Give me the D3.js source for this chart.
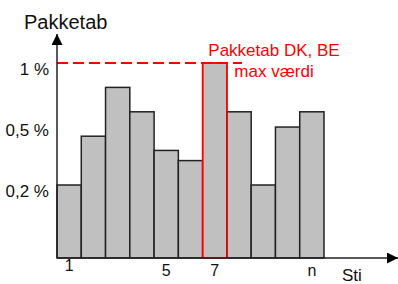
<!DOCTYPE html>
<html>
<head>
<meta charset="utf-8">
<script src="https://cdn.jsdelivr.net/npm/d3@7"></script>
<style>
  body { margin: 0; background: #fff; }
  text { font-family: "Liberation Sans", Arial, sans-serif; }
</style>
</head>
<body>
<svg width="398" height="284"></svg>
<script>
// Packet loss per path (in %), path 7 is the max value
var paths = ["1", "2", "3", "4", "5", "6", "7", "8", "9", "10", "n"];
var loss = [0.2, 0.44, 0.8, 0.6, 0.37, 0.32, 1.0, 0.6, 0.2, 0.485, 0.6];
var highlight = "7";
var maxLoss = 1.0;

// y tick values and their labels
var yTicks = [0.2, 0.5, 1];
var yTickLabels = ["0,2 %", "0,5 %", "1 %"];
// only some paths get a label under the axis
var xLabels = ["1", "5", "7", "n"];

var svgWidth = 398, svgHeight = 284;
var margin = {top: 34, right: 0, bottom: 26, left: 57};

var svg = d3.select("svg");

var xScale = d3.scaleBand()
  .domain(paths)
  .range([margin.left, 324])
  .padding(0);

// hand drawn, so the y axis is not linear
var yScale = d3.scaleLinear()
  .domain([0, 0.2, 0.5, 1])
  .range([258, 185, 124, 63]);

// arrow heads
var defs = svg.append("defs");
defs.append("marker")
  .attr("id", "arrow")
  .attr("viewBox", "0 0 10 10")
  .attr("refX", 10).attr("refY", 5)
  .attr("markerWidth", 11).attr("markerHeight", 11)
  .attr("markerUnits", "userSpaceOnUse")
  .attr("orient", "auto")
  .append("path")
  .attr("d", "M0,0 L10,5 L0,10 Z")
  .attr("fill", "#000");

// bars
svg.selectAll(".bar")
  .data(loss)
  .enter()
  .append("rect")
  .attr("class", "bar")
  .attr("x", function(d, i) { return xScale(paths[i]); })
  .attr("y", function(d) { return yScale(d); })
  .attr("width", xScale.bandwidth())
  .attr("height", function(d) { return yScale(0) - yScale(d); })
  .attr("fill", "#c0c0c0")
  .attr("stroke", function(d, i) { return paths[i] == highlight ? "#ff0000" : "#222"; })
  .attr("stroke-width", 1.5);

// draw the red bar again on top so its outline is not covered
svg.append("rect")
  .attr("x", xScale(highlight))
  .attr("y", yScale(loss[paths.indexOf(highlight)]))
  .attr("width", xScale.bandwidth())
  .attr("height", yScale(0) - yScale(loss[paths.indexOf(highlight)]))
  .attr("fill", "none")
  .attr("stroke", "#ff0000")
  .attr("stroke-width", 1.5);

// max value line
svg.append("line")
  .attr("x1", margin.left)
  .attr("x2", 242)
  .attr("y1", yScale(maxLoss))
  .attr("y2", yScale(maxLoss))
  .attr("stroke", "#ff0000")
  .attr("stroke-width", 2)
  .attr("stroke-dasharray", "11,5");

svg.append("text")
  .attr("x", 274).attr("y", 56)
  .attr("text-anchor", "middle")
  .attr("fill", "#ff0000")
  .attr("font-size", 17)
  .text("Pakketab DK, BE");
svg.append("text")
  .attr("x", 274).attr("y", 77)
  .attr("text-anchor", "middle")
  .attr("fill", "#ff0000")
  .attr("font-size", 17)
  .text("max værdi");

// axes with arrows
svg.append("line")
  .attr("x1", margin.left).attr("x2", margin.left)
  .attr("y1", yScale(0)).attr("y2", margin.top)
  .attr("stroke", "#222").attr("stroke-width", 1.5)
  .attr("marker-end", "url(#arrow)");
svg.append("line")
  .attr("x1", margin.left).attr("x2", svgWidth)
  .attr("y1", yScale(0)).attr("y2", yScale(0))
  .attr("stroke", "#222").attr("stroke-width", 1.5)
  .attr("marker-end", "url(#arrow)");

// y tick labels
var yAxis = d3.axisLeft(yScale)
  .tickValues(yTicks)
  .tickSize(0)
  .tickPadding(8)
  .tickFormat(function(d, i) { return yTickLabels[i]; });

svg.append("g")
  .attr("transform", "translate(" + margin.left + ",0)")
  .call(yAxis)
  .call(function(g) { g.select(".domain").remove(); })
  .selectAll("text")
  .attr("font-family", "Liberation Sans, Arial, sans-serif")
  .attr("font-size", 17)
  .attr("fill", "#111")
  .attr("dy", "0.7em");

// x tick labels
var xAxis = d3.axisBottom(xScale)
  .tickValues(xLabels)
  .tickSize(0)
  .tickPadding(8);

svg.append("g")
  .attr("transform", "translate(0," + yScale(0) + ")")
  .call(xAxis)
  .call(function(g) { g.select(".domain").remove(); })
  .selectAll("text")
  .attr("font-family", "Liberation Sans, Arial, sans-serif")
  .attr("font-size", 16)
  .attr("fill", "#111")
  .attr("dy", function(d) { return d == "1" ? "0.3em" : "0.62em"; });

// axis titles
svg.append("text")
  .attr("x", 24).attr("y", 29)
  .attr("font-size", 20)
  .attr("fill", "#111")
  .text("Pakketab");
svg.append("text")
  .attr("x", 342).attr("y", 281)
  .attr("font-size", 17)
  .attr("fill", "#111")
  .text("Sti");
</script>
</body>
</html>
